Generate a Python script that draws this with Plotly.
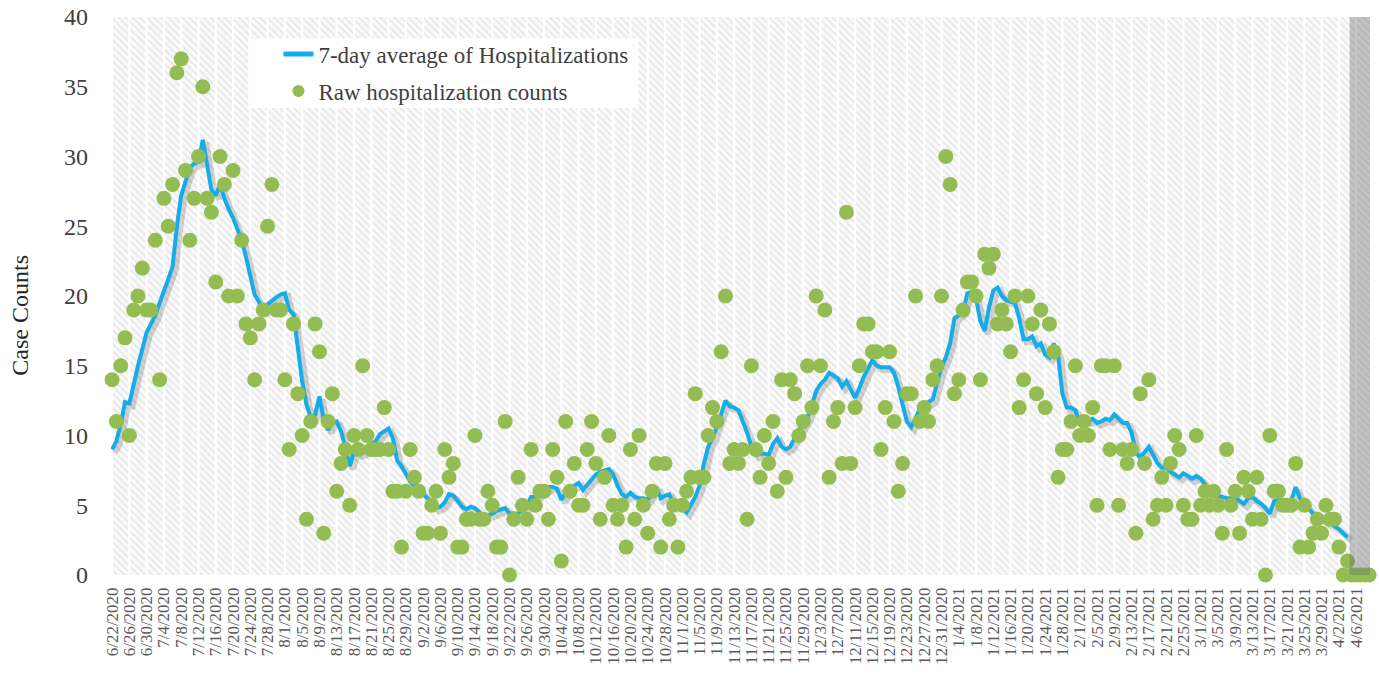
import pandas as pd
import plotly.graph_objects as go

# ---------------- data ----------------
start_date = "2020-06-22"

raw_counts = [
    14, 11, 15, 17, 10, 19, 20, 22, 19, 19, 24, 14, 27, 25, 28, 36, 37, 29, 24, 27,
    30, 35, 27, 26, 21, 30, 28, 20, 29, 20, 24, 18, 17, 14, 18, 19, 25, 28, 19, 19,
    14, 9, 18, 13, 10, 4, 11, 18, 16, 3, 11, 13, 6, 8, 9, 5, 10, 9, 15, 10,
    9, 9, 9, 12, 9, 6, 6, 2, 6, 9, 7, 6, 3, 3, 5, 6, 3, 9, 7, 8,
    2, 2, 4, 4, 10, 4, 4, 6, 5, 2, 2, 11, 0, 4, 7, 5, 4, 9, 5, 6,
    6, 4, 9, 7, 1, 11, 6, 8, 5, 5, 9, 11, 8, 4, 7, 10, 5, 4, 5, 2,
    9, 4, 10, 5, 3, 6, 8, 2, 8, 4, 5, 2, 5, 6, 7, 13, 7, 7, 10, 12,
    11, 16, 20, 8, 9, 8, 9, 4, 15, 9, 7, 10, 8, 11, 6, 14, 7, 14, 13, 10,
    11, 15, 12, 20, 15, 19, 7, 11, 12, 8, 26, 8, 12, 15, 18, 18, 16, 16, 9, 12,
    16, 11, 6, 8, 13, 13, 20, 11, 12, 11, 14, 15, 20, 30, 28, 13, 14, 19, 21, 21,
    20, 14, 23, 22, 23, 18, 19, 18, 16, 20, 12, 14, 20, 18, 13, 19, 12, 18, 16, 7,
    9, 9, 11, 15, 10, 11, 10, 12, 5, 15, 15, 9, 15, 5, 9, 8, 9, 3, 13, 8,
    14, 4, 5, 7, 5, 8, 10, 9, 5, 4, 4, 10, 5, 6, 5, 6, 5, 3, 9, 5,
    6, 3, 7, 6, 4, 7, 4, 0, 10, 6, 6, 5, 5, 5, 8, 2, 5, 2, 3, 4,
    3, 5, 4, 4, 2, 0, 1, 0, 0, 0, 0, 0,
]

avg_7day = [
    9.0, 9.6, 10.8, 12.4, 12.3, 13.8, 15.0, 16.2, 17.4, 18.0,
    18.6, 19.5, 20.3, 21.2, 22.1, 25.0, 27.2, 28.3, 29.2, 29.5,
    29.6, 31.2, 29.3, 27.6, 27.2, 28.0, 27.0, 26.2, 25.6, 24.8,
    24.0, 22.8, 21.5, 20.1, 19.6, 18.8, 19.4, 19.7, 19.9, 20.1,
    20.2, 19.0, 18.7, 16.3, 13.9, 12.2, 11.3, 11.5, 12.8, 11.1,
    10.4, 10.9, 11.0, 10.3, 9.2, 7.8, 8.8, 8.7, 8.8, 9.2,
    9.4, 9.6, 10.1, 10.3, 10.5, 9.8, 8.2, 7.8, 7.2, 6.7,
    6.4, 6.1, 5.8, 5.5, 5.3, 4.8, 4.9, 5.2, 5.8, 5.7,
    5.3, 4.9, 4.7, 4.9, 4.8, 4.5, 4.2, 4.3, 4.4, 4.6,
    4.7, 4.8, 4.4, 4.4, 4.4, 4.7, 4.9, 5.6, 5.6, 5.8,
    6.0, 6.3, 6.3, 6.2, 5.4, 5.9, 6.2, 6.4, 6.6, 6.1,
    6.5, 6.9, 7.2, 7.4, 7.5, 7.6, 7.2, 6.4, 5.8, 5.6,
    5.9, 5.6, 5.5, 5.5, 5.4, 5.9, 6.3, 5.5, 5.7, 5.8,
    5.1, 5.0, 4.8, 4.5, 5.0, 5.6, 6.4, 8.0, 9.2, 9.8,
    10.6, 11.6, 12.5, 12.1, 12.0, 11.8, 11.0, 10.2, 9.2, 8.6,
    8.7, 8.7, 8.6, 9.4, 9.8, 9.2, 9.0, 9.2, 9.8, 10.4,
    10.8, 11.3, 12.2, 13.2, 13.7, 14.0, 14.5, 14.3, 14.1, 13.5,
    13.9, 13.3, 12.7, 13.4, 14.2, 14.8, 15.4, 15.0, 14.9, 14.9,
    14.9, 14.5, 13.5, 12.2, 11.0, 10.6, 11.3, 11.9, 12.2, 12.4,
    12.6, 13.8, 14.9, 15.6, 16.6, 18.4, 18.6, 18.9, 20.2, 20.3,
    19.8, 18.2, 17.5, 19.2, 20.4, 20.6, 20.0, 19.7, 19.6, 19.5,
    18.4, 16.9, 16.9, 17.1, 16.4, 16.6, 15.8, 15.6, 16.6, 15.7,
    13.0, 12.0, 12.0, 11.8, 10.9, 11.0, 11.0, 11.2, 10.9, 11.0,
    11.2, 11.1, 11.5, 11.2, 10.9, 10.9, 10.2, 8.8, 8.4, 8.8,
    9.2, 8.6, 8.0, 7.7, 7.7, 7.4, 7.2, 7.0, 7.3, 7.1,
    6.9, 7.1, 6.9, 6.5, 6.1, 5.9, 5.7, 5.6, 5.5, 5.5,
    5.6, 5.3, 5.1, 5.5, 5.6, 5.3, 5.1, 4.8, 4.4, 5.3,
    5.4, 5.4, 5.3, 5.4, 6.3, 5.5, 5.1, 4.8, 4.4, 4.2,
    4.0, 3.9, 3.7, 3.5, 3.3, 3.0, 2.7,
]

tick_start, tick_end, tick_step_days = "2020-06-22", "2021-04-06", 4
incomplete_start = "2021-04-04 12:00"   # start of the grey "incomplete data" band
y_max = 40
y_title = "Case Counts"

raw_dates = pd.date_range(start_date, periods=len(raw_counts), freq="D")
avg_dates = pd.date_range(start_date, periods=len(avg_7day), freq="D")
tick_dates = pd.date_range(tick_start, tick_end, freq=f"{tick_step_days}D")
tick_labels = [f"{d.month}/{d.day}/{d.year}" for d in tick_dates]

# ---------------- styling ----------------
FONT = "Liberation Serif"
BLUE = "#16ACE8"
GREEN = "#93BD52"
day = pd.Timedelta(days=1)
x_range = [raw_dates[0] - 0.25 * day, raw_dates[-1] + 0.2 * day]
shadow_dx = 0.75 * day     # ~3 px
shadow_dy = 0.22           # ~3 px

fig = go.Figure()

# hatched background, split into 4-day panels so that white vertical
# gridlines appear between them
fig.add_trace(go.Bar(
    x=tick_dates + tick_step_days / 2 * day,
    y=[y_max] * len(tick_dates),
    width=[tick_step_days * 0.88 * 86400000] * len(tick_dates),
    marker=dict(color="#ffffff", line=dict(width=0),
                pattern=dict(shape="\\", fgcolor="#cdcdcd", bgcolor="#fafafa",
                             size=5, solidity=0.3)),
    showlegend=False, hoverinfo="skip",
    xaxis="x", yaxis="y",
))

# drop shadow of the average line (overlay axes with shifted ranges)
fig.add_trace(go.Scatter(
    x=avg_dates, y=avg_7day, mode="lines",
    line=dict(color="rgba(60,60,60,0.22)", width=6),
    showlegend=False, hoverinfo="skip",
    xaxis="x2", yaxis="y2",
))

fig.add_trace(go.Scatter(
    x=avg_dates, y=avg_7day, mode="lines",
    name="7-day average of Hospitalizations", legendgroup="avg",
    line=dict(color=BLUE, width=4),
    xaxis="x3", yaxis="y3",
))
fig.add_trace(go.Scatter(
    x=raw_dates, y=raw_counts, mode="markers",
    name="Raw hospitalization counts", legendgroup="raw",
    marker=dict(color=GREEN, size=15, line=dict(width=0)),
    cliponaxis=False,
    xaxis="x3", yaxis="y3",
))

# grey band marking incomplete recent data
fig.add_shape(type="rect", xref="x", yref="y",
              x0=pd.Timestamp(incomplete_start), x1=x_range[1], y0=0, y1=y_max,
              fillcolor="rgba(110,110,110,0.40)", line=dict(width=0), layer="above")

# white legend box
fig.add_shape(type="rect", xref="paper", yref="paper",
              x0=0.109, x1=0.419, y0=0.837, y1=0.962,
              fillcolor="white", line=dict(width=0), layer="above")

# y-axis title (placed slightly below the plot centre, as in the original)
fig.add_annotation(text=y_title, textangle=-90, xref="paper", yref="paper",
                   x=-0.0725, y=0.466, xanchor="center", yanchor="middle",
                   showarrow=False, font=dict(size=24, family=FONT, color="#262626"))

fig.update_layout(
    width=1379, height=675,
    margin=dict(l=111, r=9, t=17, b=100, autoexpand=False),
    paper_bgcolor="white", plot_bgcolor="white",
    font=dict(family=FONT, color="#404040"),
    barmode="overlay",
    xaxis=dict(
        type="date", range=x_range, automargin=False,
        tickmode="array", tickvals=tick_dates, ticktext=tick_labels,
        tickangle=-90, tickfont=dict(size=17, color="#5a5a5a", family=FONT),
        showgrid=False, zeroline=False, showline=False, ticks="",
        ticklabelstandoff=8, ticklabeloverflow="allow",
    ),
    yaxis=dict(
        range=[0, y_max], tickmode="linear", tick0=0, dtick=5, automargin=False,
        tickfont=dict(size=24, color="#404040", family=FONT),
        showgrid=False, zeroline=False, showline=False, ticks="",
        ticklabelstandoff=22, ticklabeloverflow="allow",
    ),
    xaxis2=dict(type="date", range=[x_range[0] - shadow_dx, x_range[1] - shadow_dx],
                showgrid=False, zeroline=False, showticklabels=False, overlaying="x"),
    yaxis2=dict(range=[shadow_dy, y_max + shadow_dy], showgrid=False, zeroline=False,
                showticklabels=False, overlaying="y"),
    xaxis3=dict(type="date", range=x_range, showgrid=False, zeroline=False,
                showticklabels=False, overlaying="x"),
    yaxis3=dict(range=[0, y_max], showgrid=False, zeroline=False,
                showticklabels=False, overlaying="y"),
    legend=dict(
        x=0.133, y=0.972, xanchor="left", yanchor="top",
        bgcolor="rgba(0,0,0,0)", borderwidth=0,
        font=dict(size=23, family=FONT, color="#404040"),
        itemsizing="constant", tracegroupgap=4,
    ),
    showlegend=True,
)

# remove the browser's default 8 px page margin so the figure fills the window
fig.write_html("out.html",
               config={"displayModeBar": False},
               post_script="document.body.style.margin='0';document.body.style.overflow='hidden';")
